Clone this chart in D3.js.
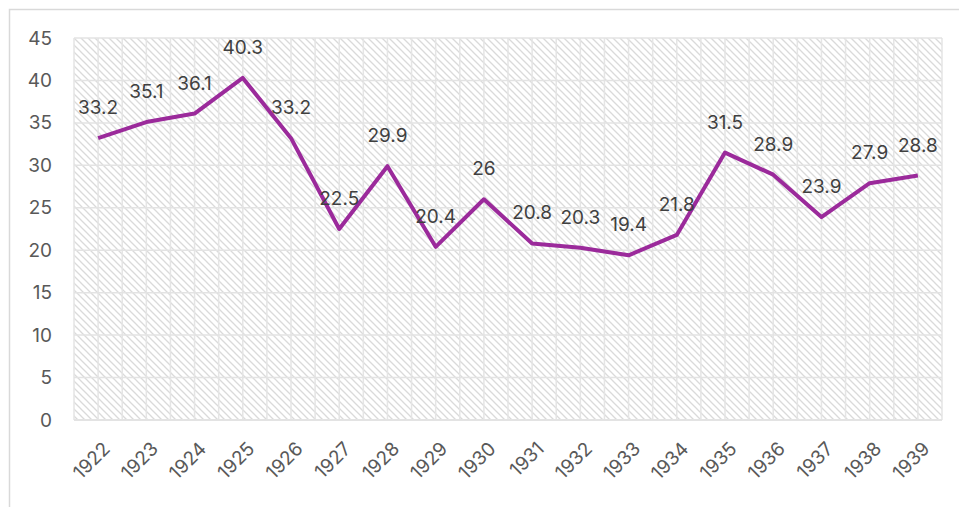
<!DOCTYPE html>
<html>
<head>
<meta charset="utf-8">
<script src="https://cdn.jsdelivr.net/npm/d3@7"></script>
<style>
  body { margin: 0; background: #fff; }
  svg { display: block; font-family: Inter, "Noto Sans", sans-serif; }
</style>
</head>
<body>
<svg width="959" height="507"></svg>
<script>
// данные графика
const years = ["1922", "1923", "1924", "1925", "1926", "1927", "1928", "1929", "1930",
               "1931", "1932", "1933", "1934", "1935", "1936", "1937", "1938", "1939"];
const values = [33.2, 35.1, 36.1, 40.3, 33.2, 22.5, 29.9, 20.4, 26,
                20.8, 20.3, 19.4, 21.8, 31.5, 28.9, 23.9, 27.9, 28.8];
const yTicks = [0, 5, 10, 15, 20, 25, 30, 35, 40, 45];

const svg = d3.select("svg");
const margin = {left: 74, top: 38, right: 17, bottom: 87};
const width = +svg.attr("width");
const height = +svg.attr("height");
const plotW = width - margin.left - margin.right;
const plotH = height - margin.top - margin.bottom;
const fontSize = 19;

// рамка всей диаграммы
svg.append("rect")
    .attr("x", 9.5).attr("y", 9.5)
    .attr("width", width).attr("height", height)
    .attr("fill", "none").attr("stroke", "#d9d9d9").attr("stroke-width", 1.5);

// штриховка области построения
const defs = svg.append("defs");
const pat = defs.append("pattern")
    .attr("id", "hatch").attr("patternUnits", "userSpaceOnUse")
    .attr("width", 7).attr("height", 7);
pat.append("rect").attr("width", 7).attr("height", 7).attr("fill", "#fff");
pat.append("path")
    .attr("d", "M-2,-2 L9,9 M-2,5 L2,9 M5,-2 L9,2")
    .attr("stroke", "#dadada").attr("stroke-width", 1.3);

const g = svg.append("g").attr("transform", `translate(${margin.left},${margin.top})`);

const x = d3.scaleBand().domain(years).range([0, plotW]);
const y = d3.scaleLinear().domain([0, 45]).range([plotH, 0]);

g.append("rect").attr("width", plotW).attr("height", plotH).attr("fill", "url(#hatch)");

// вертикальная сетка: границы и середины категорий
const vLines = [];
years.forEach(yr => { vLines.push(x(yr)); vLines.push(x(yr) + x.bandwidth() / 2); });
vLines.push(plotW);
g.selectAll(".vgrid").data(vLines).join("line")
    .attr("x1", d => d).attr("x2", d => d)
    .attr("y1", 0).attr("y2", plotH)
    .attr("stroke", "#e5e5e5").attr("stroke-width", 1.5);

// горизонтальная сетка
g.selectAll(".hgrid").data(yTicks).join("line")
    .attr("x1", 0).attr("x2", plotW)
    .attr("y1", d => y(d)).attr("y2", d => y(d))
    .attr("stroke", "#e3e3e3").attr("stroke-width", d => d === 0 ? 2 : 1.5);

// ось Y
const yAxis = g.append("g").call(d3.axisLeft(y).tickValues(yTicks).tickSize(0).tickPadding(22));
yAxis.select(".domain").remove();
yAxis.selectAll("text").attr("font-size", fontSize).attr("fill", "#595959")
    .attr("font-family", "Inter, 'Noto Sans', sans-serif");

// ось X с повернутыми подписями
const xAxis = g.append("g").attr("transform", `translate(0,${plotH})`)
    .call(d3.axisBottom(x).tickSize(0));
xAxis.select(".domain").remove();
xAxis.selectAll("text")
    .attr("font-size", fontSize).attr("fill", "#595959")
    .attr("font-family", "Inter, 'Noto Sans', sans-serif")
    .attr("text-anchor", "end")
    .attr("dy", "0")
    .attr("y", 0)
    .attr("transform", "translate(13,30) rotate(-45)");

// линия
const line = d3.line()
    .x((d, i) => x(years[i]) + x.bandwidth() / 2)
    .y(d => y(d));
g.append("path")
    .attr("d", line(values))
    .attr("fill", "none")
    .attr("stroke", "#9b2a9b")
    .attr("stroke-width", 4)
    .attr("stroke-linejoin", "round");

// подписи значений
g.selectAll(".lbl").data(values).join("text")
    .attr("x", (d, i) => x(years[i]) + x.bandwidth() / 2)
    .attr("y", d => y(d) - 24)
    .attr("text-anchor", "middle")
    .attr("font-size", fontSize)
    .attr("fill", "#404040")
    .text(d => d);
</script>
</body>
</html>
